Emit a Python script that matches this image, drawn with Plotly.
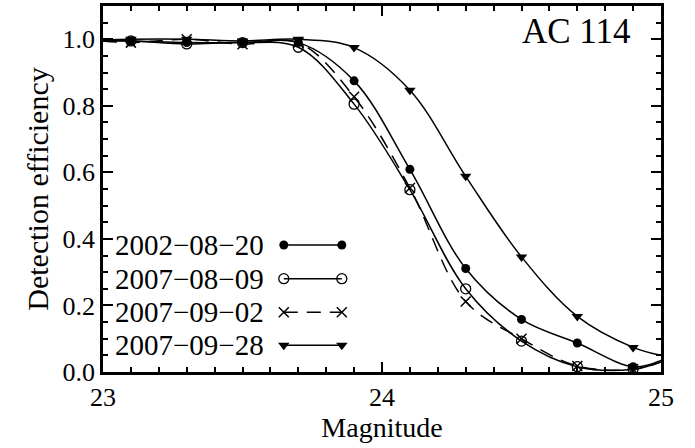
import plotly.graph_objects as go

# measured points
magnitude = [23.1, 23.3, 23.5, 23.7, 23.9, 24.1, 24.3, 24.5, 24.7, 24.9]
eff_20020820 = [0.995, 0.99, 0.99, 0.99, 0.875, 0.609, 0.311, 0.158, 0.087, 0.016]
eff_20070809 = [0.995, 0.986, 0.99, 0.976, 0.805, 0.548, 0.250, 0.093, 0.016, 0.008]
eff_20070902 = [0.99, 1.0, 0.985, 0.99, 0.827, 0.553, 0.212, 0.100, 0.018, 0.008]
eff_20070928 = [1.0, 1.0, 0.995, 1.0, 0.975, 0.847, 0.588, 0.346, 0.167, 0.074]

# fitted-curve values read at the plot edges (magnitude 23.0 and 25.0)
edge_magnitude = [23.0, 25.0]
edge_20020820 = [0.995, 0.035]
edge_20070809 = [0.995, 0.03]
edge_20070902 = [0.995, 0.03]
edge_20070928 = [0.998, 0.05]

labels = ["2002\u221208\u221220", "2007\u221208\u221209", "2007\u221209\u221202", "2007\u221209\u221228"]
title_text = "AC 114"

FONT = "Liberation Serif"
series = [
    (eff_20020820, edge_20020820, dict(symbol="circle", size=9, color="black"), "solid"),
    (eff_20070809, edge_20070809, dict(symbol="circle-open", size=10, color="black", line=dict(width=1.3, color="black")), "solid"),
    (eff_20070902, edge_20070902, dict(symbol="x-thin-open", size=10, color="black", line=dict(width=1.5, color="black")), "14px,9px"),
    (eff_20070928, edge_20070928, dict(symbol="triangle-down", size=10, color="black"), "solid"),
]

fig = go.Figure()
for vals, edge, mk, dash in series:
    xs = [edge_magnitude[0]] + magnitude + [edge_magnitude[1]]
    ys = [edge[0]] + vals + [edge[1]]
    fig.add_trace(go.Scatter(
        x=xs, y=ys, mode="lines",
        line=dict(color="black", width=1.5, dash=dash, shape="spline", smoothing=1.0),
        showlegend=False, hoverinfo="skip",
    ))
    fig.add_trace(go.Scatter(
        x=magnitude, y=vals, mode="markers",
        marker=mk, showlegend=False, cliponaxis=False,
    ))

# custom legend (text left, symbol line right) on an overlay axis in plot-fraction units
leg_y = [0.347, 0.255, 0.163, 0.073]
for (vals, edge, mk, dash), lab, yy in zip(series, labels, leg_y):
    fig.add_trace(go.Scatter(
        x=[0.324, 0.428], y=[yy, yy], xaxis="x2", yaxis="y2",
        mode="lines+markers",
        line=dict(color="black", width=1.5, dash=dash),
        marker=mk, showlegend=False, hoverinfo="skip",
    ))
    fig.add_annotation(x=0.292, y=yy, xref="x2", yref="y2", text=lab,
                       showarrow=False, xanchor="right", yanchor="middle",
                       font=dict(family=FONT, size=29, color="black"))

fig.add_annotation(x=0.95, y=0.93, xref="x2", yref="y2", text=title_text,
                   showarrow=False, xanchor="right", yanchor="middle",
                   font=dict(family=FONT, size=35, color="black"))

axis_common = dict(
    showline=True, linecolor="black", linewidth=2.5, mirror="ticks",
    ticks="inside", ticklen=10, tickwidth=2, tickcolor="black",
    showgrid=False, zeroline=False,
    tickfont=dict(family=FONT, size=26, color="black"),
)
fig.update_layout(
    width=695, height=448,
    margin=dict(l=103, r=34, t=3, b=76),
    paper_bgcolor="white", plot_bgcolor="white",
    font=dict(family=FONT, color="black"),
    xaxis=dict(range=[23, 25], tickvals=[23, 24, 25], ticktext=["23", "24", "25"],
               minor=dict(dtick=0.1, ticks="inside", ticklen=5, tickwidth=1.5, tickcolor="black"),
               title=dict(text="Magnitude", font=dict(family=FONT, size=28, color="black"), standoff=6),
               **axis_common),
    yaxis=dict(range=[0, 1.1], tickvals=[0, 0.2, 0.4, 0.6, 0.8, 1.0],
               ticktext=["0.0", "0.2", "0.4", "0.6", "0.8", "1.0"],
               minor=dict(dtick=0.05, ticks="inside", ticklen=5, tickwidth=1.5, tickcolor="black"),
               title=dict(text="Detection efficiency", font=dict(family=FONT, size=30, color="black"), standoff=6),
               **axis_common),
    xaxis2=dict(range=[0, 1], overlaying="x", visible=False, fixedrange=True),
    yaxis2=dict(range=[0, 1], overlaying="y", visible=False, fixedrange=True),
)

fig.write_html("out.html")
